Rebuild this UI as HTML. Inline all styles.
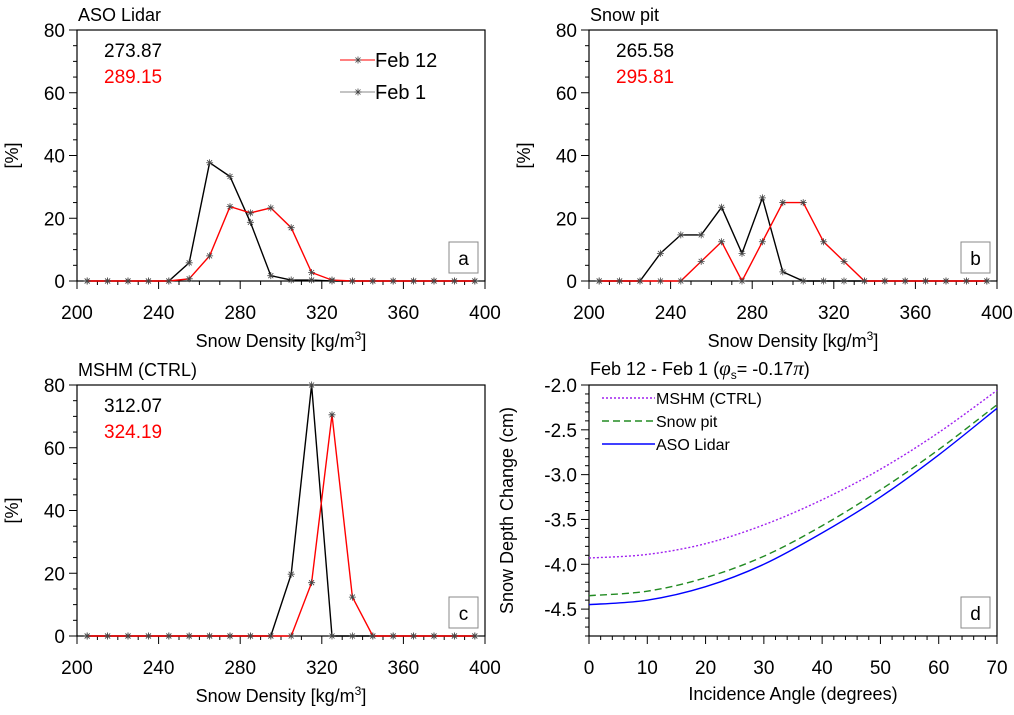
<!DOCTYPE html>
<html><head><meta charset="utf-8"><style>
body{margin:0;background:#fff}
svg{font-family:"Liberation Sans",sans-serif}
</style></head><body>
<svg id="s" width="1014" height="710" xmlns="http://www.w3.org/2000/svg"></svg>
<script>
const densities=[205,215,225,235,245,255,265,275,285,295,305,315,325,335,345,355,365,375,385,395];
const asoFeb1=[0,0,0,0,0,5.8,37.7,33.3,18.7,1.7,0.3,0.3,0,0,0,0,0,0,0,0];
const asoFeb12=[0,0,0,0,0,0.7,8,23.7,21.7,23.3,17,2.7,0.3,0,0,0,0,0,0,0];
const pitFeb1=[0,0,0,8.8,14.7,14.7,23.5,8.8,26.5,2.9,0,0,0,0,0,0,0,0,0,0];
const pitFeb12=[0,0,0,0,0,6.25,12.5,0,12.5,25,25,12.5,6.25,0,0,0,0,0,0,0];
const ctrlFeb1=[0,0,0,0,0,0,0,0,0,0,19.7,80,0,0,0,0,0,0,0,0];
const ctrlFeb12=[0,0,0,0,0,0,0,0,0,0,0,17,70.5,12.4,0,0,0,0,0,0];
const xTicks=[200,240,280,320,360,400];
const yTicks=[0,20,40,60,80];
const angles=[0,10,20,30,40,50,60,70];
const mshm=[-3.93,-3.89,-3.77,-3.56,-3.28,-2.94,-2.53,-2.06];
const pit=[-4.35,-4.30,-4.15,-3.91,-3.57,-3.17,-2.72,-2.22];
const aso=[-4.45,-4.40,-4.25,-4.00,-3.65,-3.25,-2.78,-2.26];
const dXTicks=[0,10,20,30,40,50,60,70];
const dYTicks=[-2.0,-2.5,-3.0,-3.5,-4.0,-4.5];

const S=document.getElementById('s');const NS='http://www.w3.org/2000/svg';
function el(t,a,p){const e=document.createElementNS(NS,t);for(const k in a)e.setAttribute(k,a[k]);(p||S).appendChild(e);return e;}
function txt(x,y,s,a,p){const e=el('text',Object.assign({x:x,y:y},a),p);e.textContent=s;return e;}
function star(x,y,p){const r=3.5;const d=`M${x-r},${y}H${x+r}M${x},${y-r}V${y+r}M${x-2.5},${y-2.5}L${x+2.5},${y+2.5}M${x-2.5},${y+2.5}L${x+2.5},${y-2.5}`;el('path',{d:d,stroke:'#444','stroke-width':0.8,fill:'none'},p);}

function histPanel(name,L,T,title,m1,m2,f1,f12,letter,legend){
  const R=L+408,B=T+251;
  const g=el('g',{});
  
  
  const X=v=>L+(v-200)/200*(R-L), Y=v=>B-v/80*(B-T);
  el('rect',{x:L,y:T,width:R-L,height:B-T,fill:'none',stroke:'#000','stroke-width':1.2},g);
  for(let v=200;v<=400;v+=10){const M=v%40==0;el('line',{x1:X(v),x2:X(v),y1:B,y2:B+(M?8:4),stroke:'#000'},g);}
  for(let v=0;v<=80;v+=5){const M=v%20==0;el('line',{x1:L,x2:L-(M?8:4),y1:Y(v),y2:Y(v),stroke:'#000'},g);}
  xTicks.forEach(v=>{const t=txt(X(v),B+38,v,{'font-size':19,'text-anchor':'middle'},g);});
  yTicks.forEach(v=>{const t=txt(L-12,Y(v)+7,v,{'font-size':19,'text-anchor':'end'},g);});
  const xt=txt((L+R)/2,B+66,'Snow Density [kg/m',{'font-size':18,'text-anchor':'middle'},g);
  const sup=el('tspan',{dy:-7,'font-size':12},xt);sup.textContent='3';
  const cl=el('tspan',{dy:7},xt);cl.textContent=']';
  
  const yt=txt(0,0,'[%]',{'font-size':18,'text-anchor':'middle',transform:`translate(${L-59},${(T+B)/2}) rotate(-90)`},g);
  
  const tt=txt(L+1,T-9,title,{'font-size':18},g);
  
  const t1=txt(L+27,T+27,m1,{'font-size':19},g);
  const t2=txt(L+27,T+53,m2,{'font-size':19,fill:'#f00'},g);
  [[f1,'#000','series-feb1'],[f12,'#f00','series-feb12']].forEach(([d,c,n])=>{
    const pts=densities.map((x,i)=>X(x).toFixed(1)+','+Y(d[i]).toFixed(1)).join(' ');
    const pl=el('polyline',{points:pts,fill:'none',stroke:c,'stroke-width':1.4},g);
    
    densities.forEach((x,i)=>star(X(x),Y(d[i]),g));
  });
  el('rect',{x:R-36,y:B-39,width:29,height:31,fill:'#fff',stroke:'#888'},g);
  const lt=txt(R-21.5,B-16,letter,{'font-size':19,'text-anchor':'middle'},g);
  
  if(legend){
    [['Feb 12','#f00',T+30],['Feb 1','#888',T+62]].forEach(([s,c,y])=>{
      const lg=el('g',{},g);
      
      
      el('line',{x1:L+263,x2:L+298,y1:y,y2:y,stroke:c},lg);
      star(L+281,y,lg);
      txt(L+298,y+7,s,{'font-size':20},lg);
    });
  }
}
histPanel('panel-a',77,30,'ASO Lidar','273.87','289.15',asoFeb1,asoFeb12,'a',true);
histPanel('panel-b',589,30,'Snow pit','265.58','295.81',pitFeb1,pitFeb12,'b',false);
histPanel('panel-c',77,385,'MSHM (CTRL)','312.07','324.19',ctrlFeb1,ctrlFeb12,'c',false);

(function(){
  const L=589,R=997,T=385,B=636;
  const g=el('g',{});
  
  
  const X=v=>L+v/70*(R-L), Y=v=>T+(-2.0-v)/2.8*(B-T);
  el('rect',{x:L,y:T,width:R-L,height:B-T,fill:'none',stroke:'#000','stroke-width':1.2},g);
  for(let v=0;v<=70;v+=2){const M=v%10==0;el('line',{x1:X(v),x2:X(v),y1:B,y2:B+(M?8:4),stroke:'#000'},g);}
  for(let i=0;i<=28;i++){const v=-2.0-i*0.1;const M=i%5==0;el('line',{x1:L,x2:L-(M?8:4),y1:Y(v),y2:Y(v),stroke:'#000'},g);}
  dXTicks.forEach(v=>{const t=txt(X(v),B+38,v,{'font-size':19,'text-anchor':'middle'},g);});
  dYTicks.forEach(v=>{const t=txt(L-12,Y(v)+7,v.toFixed(1),{'font-size':19,'text-anchor':'end'},g);});
  const xt=txt((L+R)/2,B+64,'Incidence Angle (degrees)',{'font-size':18,'text-anchor':'middle'},g);
  
  const yt=txt(0,0,'Snow Depth Change (cm)',{'font-size':18,'text-anchor':'middle',transform:`translate(${L-76},${(T+B)/2}) rotate(-90)`},g);
  
  const tt=txt(L+1,T-10,'Feb 12 - Feb 1 (',{'font-size':18},g);
  const ph=el('tspan',{'font-style':'italic','font-family':'Liberation Serif, serif','font-size':21},tt);ph.textContent='φ';
  const sb=el('tspan',{'font-size':12,dy:4},tt);sb.textContent='s';
  const eq=el('tspan',{dy:-4},tt);eq.textContent='= -0.17';
  const pi=el('tspan',{'font-style':'italic','font-family':'Liberation Serif, serif','font-size':21},tt);pi.textContent='π';
  const cp=el('tspan',{},tt);cp.textContent=')';
  
  function path(d){let p='';const pts=angles.map((a,i)=>[X(a),Y(d[i])]);
    for(let i=0;i<pts.length;i++){if(i==0){p+='M'+pts[0];continue;}
      const p0=pts[Math.max(0,i-2)],p1=pts[i-1],p2=pts[i],p3=pts[Math.min(pts.length-1,i+1)];
      const c1=[p1[0]+(p2[0]-p0[0])/6,p1[1]+(p2[1]-p0[1])/6],c2=[p2[0]-(p3[0]-p1[0])/6,p2[1]-(p3[1]-p1[1])/6];
      p+=' C'+c1+' '+c2+' '+p2;}return p;}
  [[mshm,'#a020f0','2,2','series-mshm'],[pit,'#228b22','7,4','series-snow-pit'],[aso,'#0000ff','none','series-aso-lidar']].forEach(([d,c,da,n])=>{
    const p=el('path',{d:path(d),fill:'none',stroke:c,'stroke-width':1.4,'stroke-dasharray':da},g);
    
  });
  [['MSHM (CTRL)','#a020f0','2,2',398],['Snow pit','#228b22','7,4',421],['ASO Lidar','#0000ff','none',444]].forEach(([s,c,da,y])=>{
    const lg=el('g',{},g);
    
    
    el('line',{x1:602,x2:655,y1:y,y2:y,stroke:c,'stroke-width':1.4,'stroke-dasharray':da},lg);
    txt(656,y+6,s,{'font-size':16},lg);
  });
  el('rect',{x:R-36,y:B-39,width:29,height:31,fill:'#fff',stroke:'#888'},g);
  const lt=txt(R-21.5,B-16,'d',{'font-size':19,'text-anchor':'middle'},g);
  
})();
</script>
</body></html>
